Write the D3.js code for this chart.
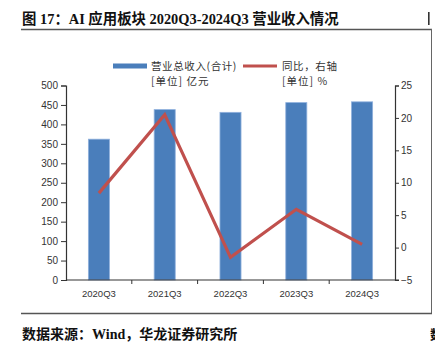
<!DOCTYPE html>
<html><head><meta charset="utf-8">
<script src="https://cdn.jsdelivr.net/npm/d3@7"></script>
<style>body{margin:0;background:#fff;}svg{display:block;}</style>
</head><body>
<script>
const categories = ["2020Q3","2021Q3","2022Q3","2023Q3","2024Q3"];
const revenue = [362, 438, 431, 456, 458];
const yoy = [8.4, 20.5, -1.5, 5.9, 0.5];
const leftTicks = [0,50,100,150,200,250,300,350,400,450,500];
const rightTicks = [-5,0,5,10,15,20,25];

const W=435,H=343;
const svg=d3.select("body").append("svg").attr("width",W).attr("height",H);
const L=66,R=395,T=85.5,B=280;
const x=d3.scaleBand().domain(categories).range([L,R]).paddingInner(0.68).paddingOuter(0.34);
const xc=d3.scaleBand().domain(categories).range([L,R]);
const yL=d3.scaleLinear().domain([0,500]).range([B,T]);
const yR=d3.scaleLinear().domain([-5,25]).range([B,T]);
const tickFont='"Liberation Sans", Arial, sans-serif';
const cjk='"Noto Sans CJK SC", sans-serif';

// title
svg.append("text").attr("x",22).attr("y",24).attr("font-family",'"Liberation Serif", "Noto Sans CJK SC", serif')
  .attr("font-weight","bold").attr("font-size",14.4).attr("fill","#111")
  .text("图 17：AI 应用板块 2020Q3-2024Q3 营业收入情况");
svg.append("rect").attr("x",428).attr("y",12).attr("width",1.6).attr("height",13).attr("fill","#333");
// frame
svg.append("line").attr("x1",21).attr("x2",432).attr("y1",29.5).attr("y2",29.5).attr("stroke","#555").attr("stroke-width",1.5);
svg.append("line").attr("x1",431.5).attr("x2",431.5).attr("y1",29).attr("y2",313.5).attr("stroke","#666").attr("stroke-width",1);
svg.append("line").attr("x1",21).attr("x2",432).attr("y1",313.5).attr("y2",313.5).attr("stroke","#555").attr("stroke-width",1.3);
// source
svg.append("text").attr("x",22).attr("y",339).attr("font-family",'"Liberation Serif", "Noto Sans CJK SC", serif')
  .attr("font-weight","bold").attr("font-size",14).attr("fill","#111").text("数据来源：Wind，华龙证券研究所");
svg.append("text").attr("x",430).attr("y",339).attr("font-family",cjk)
  .attr("font-weight","bold").attr("font-size",13).attr("fill","#111").text("数");

// bars
svg.append("g").selectAll("rect").data(categories).join("rect")
  .attr("x",d=>x(d)).attr("width",x.bandwidth())
  .attr("y",(d,i)=>yL(revenue[i])).attr("height",(d,i)=>B-yL(revenue[i]))
  .attr("fill","#4a7ebb").attr("stroke","#8fb0dd").attr("stroke-width",0.8);

// axes
const axL=svg.append("g").attr("transform",`translate(${L},0)`)
  .call(d3.axisLeft(yL).tickValues(leftTicks).tickSize(5).tickPadding(3));
const axR=svg.append("g").attr("transform",`translate(${R},0)`)
  .call(d3.axisRight(yR).tickValues(rightTicks).tickSize(4).tickPadding(2).tickFormat(d=>d<0?"\u2212"+Math.abs(d):d));
const axX=svg.append("g").attr("transform",`translate(0,${B})`)
  .call(d3.axisBottom(xc).tickSize(0).tickPadding(10));
[axL,axR,axX].forEach(a=>{
  a.select(".domain").attr("stroke","#333").attr("stroke-width",1.2);
  a.selectAll(".tick line").attr("stroke","#333");
  a.selectAll("text").attr("font-family",tickFont).attr("font-size",10).attr("fill","#333");
});
axX.selectAll("text").attr("font-size",9.5);
axX.select(".domain").attr("d",`M${L},0H${R+4}`);
// category boundary ticks
svg.append("g").selectAll("line").data(categories.slice(1)).join("line")
  .attr("x1",d=>xc(d)).attr("x2",d=>xc(d)).attr("y1",B).attr("y2",B+4).attr("stroke","#333");

// line
const line=d3.line().x((d,i)=>xc(categories[i])+xc.bandwidth()/2).y(d=>yR(d));
svg.append("path").datum(yoy).attr("d",line).attr("fill","none").attr("stroke","#c0504d").attr("stroke-width",3.2).attr("stroke-linejoin","miter");

// legend
const lg=svg.append("g").attr("font-family",cjk).attr("font-size",10.5).attr("fill","#333");
lg.append("rect").attr("x",113).attr("y",63.5).attr("width",34).attr("height",5).attr("fill","#4a7ebb");
lg.append("text").attr("x",151).attr("y",70).attr("letter-spacing",0.6).text("营业总收入(合计)");
lg.append("text").attr("x",151).attr("y",85).attr("letter-spacing",1).text("[单位] 亿元");
lg.append("line").attr("x1",243).attr("x2",277).attr("y1",66).attr("y2",66).attr("stroke","#c0504d").attr("stroke-width",3.2);
lg.append("text").attr("x",282).attr("y",70).attr("letter-spacing",0.6).text("同比，右轴");
lg.append("text").attr("x",282).attr("y",85).attr("letter-spacing",1).text("[单位] %");
</script>
</body></html>
